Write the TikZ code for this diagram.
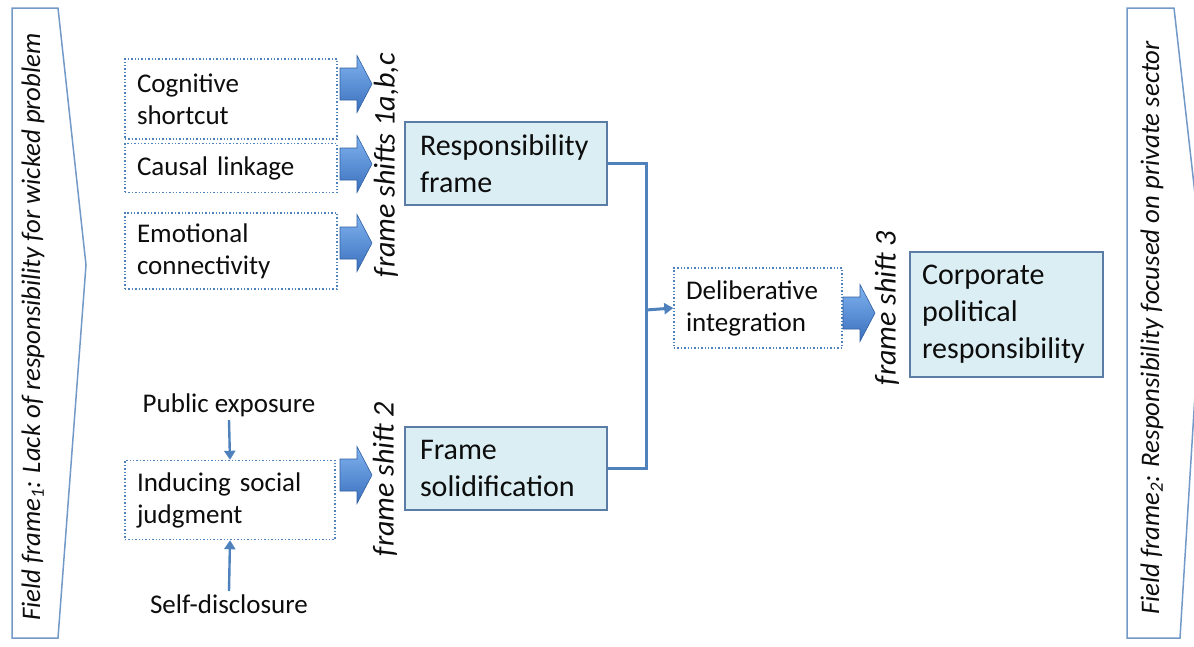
\documentclass[tikz,border=0pt]{standalone}
\usepackage{fontspec}
\setmainfont{Carlito}
\usetikzlibrary{arrows.meta}
\definecolor{lineblue}{HTML}{4F81BD}
\definecolor{chevedge}{HTML}{7299C8}
\definecolor{boxfill}{HTML}{DBEEF4}
\definecolor{boxedge}{HTML}{5B7CA4}
\definecolor{arrtop}{HTML}{80B3EF}
\definecolor{arrbot}{HTML}{3A70BE}
\definecolor{txt}{HTML}{0D0D0D}
\begin{document}
\begin{tikzpicture}[x=1pt,y=-1pt,
  every node/.style={font=\fontsize{27}{32}\selectfont, text=txt},
  dotbox/.style={draw=lineblue, line width=1.4pt, dash pattern=on 1.4pt off 2.0pt, inner ysep=0pt, inner xsep=12pt, align=left},
  framebox/.style={draw=boxedge, fill=boxfill, line width=1.1pt, inner ysep=0pt, align=left, font=\fontsize{30}{37}\selectfont},
  shifttext/.style={rotate=90, inner sep=0pt, font=\fontsize{30}{36}\selectfont\itshape},
  fieldtext/.style={rotate=90, inner sep=0pt, font=\fontsize{26.8}{30}\selectfont\itshape},
  conn/.style={draw=lineblue, line width=3pt},
  tip/.style={-{Triangle[length=9pt,width=11pt]}},
  chev/.style={draw=chevedge, line width=1.5pt, fill=white, line join=miter},
  barrow/.pic={\draw[top color=arrtop, bottom color=arrbot, draw=arrbot!85!black, line width=0.6pt]
     (-16,-16) -- (1,-16) -- (1,-28.5) -- (16,0) -- (1,28.5) -- (1,16) -- (-16,16) -- cycle;}
]
\useasboundingbox (0,0) rectangle (1194,646);
\clip (0,0) rectangle (1194,646);

% field frames
\draw[chev] (12,8) -- (58,8) -- (86,265) -- (58,638) -- (12,638) -- cycle;
\node[fieldtext] (ff1) at (33,327) {Field frame\textsubscript{1}: Lack of responsibility for wicked problem};
\draw[chev] (1127,8) -- (1174,8) -- (1203,265) -- (1180,638) -- (1127,638) -- cycle;
\node[fieldtext] (ff2) at (1152,328) {Field frame\textsubscript{2}: Responsibility focused on private sector};

% upper inputs
\node[dotbox, text width=188pt, minimum height=80pt] (cog) at (231,99) {Cognitive\\shortcut};
\node[dotbox, text width=188pt, minimum height=49pt] (cau) at (231,168) {Causal linkage};
\node[dotbox, text width=188pt, minimum height=76pt] (emo) at (231,251) {Emotional\\connectivity};

\pic (a1) at (356,84) {barrow};
\pic (a2) at (356,164) {barrow};
\pic (a3) at (356,243) {barrow};
\node[shifttext] (fs1) at (386,165) {frame shifts 1a,b,c};

\node[framebox, text width=172pt, inner xsep=15pt, minimum height=83pt] (rf) at (506,163.5) {Responsibility\\frame};

% lower inputs
\node (pub) at (229,405) {Public exposure};
\node[dotbox, text width=186pt, minimum height=79pt] (ind) at (230,500) {Inducing social\\judgment};
\node (self) at (229,604) {Self-disclosure};
\draw[conn, tip, line width=2.4pt] (pub.south) -- (ind.north);
\draw[conn, tip, line width=2.4pt] (self.north) -- (ind.south);

\pic (a4) at (356,475) {barrow};
\node[shifttext] (fs2) at (385,479) {frame shift 2};

\node[framebox, text width=172pt, inner xsep=15pt, minimum height=83pt] (fsol) at (506,468.5) {Frame\\solidification};

% integration
\coordinate (jx) at (646,310);
\draw[conn, line join=miter] (rf.east) -| (jx) |- (fsol.east);
\node[dotbox, text width=144pt, minimum height=80pt] (del) at (758,308) {Deliberative\\integration};
\draw[conn, tip] (jx) -- (del.west);

\pic (a5) at (859,313) {barrow};
\node[shifttext] (fs3) at (887,308) {frame shift 3};

\node[framebox, text width=169pt, inner xsep=12pt, minimum height=125pt] (cpr) at (1006.5,314.5) {Corporate\\political\\responsibility};
\end{tikzpicture}
\end{document}
